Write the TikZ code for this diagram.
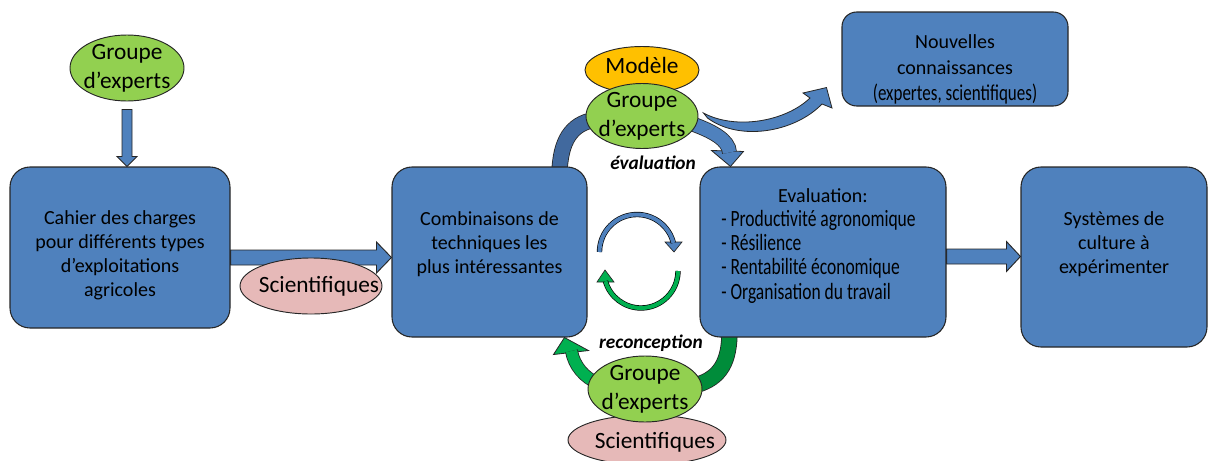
\documentclass[tikz,border=0pt]{standalone}
\usepackage{fontspec}
\setmainfont{Carlito}
\newfontfamily\narrowfont[FakeStretch=0.75]{Carlito}
\usetikzlibrary{shapes.geometric, positioning, backgrounds, calc}

\definecolor{boxblue}{HTML}{4F81BD}
\definecolor{arcblue}{HTML}{41699E}
\definecolor{expgreen}{HTML}{92D050}
\definecolor{scipink}{HTML}{E6B9B8}
\definecolor{modorange}{HTML}{FFC000}
\definecolor{darkgreen}{HTML}{008C3A}
\definecolor{brightgreen}{HTML}{00B050}

\begin{document}
\begin{tikzpicture}[x=0.75pt, y=-0.75pt,
  box/.style={rectangle, rounded corners=15pt, draw=black!85, line width=0.8pt,
              fill=boxblue, inner sep=0pt},
  boxtext/.style={font=\fontsize{15}{18}\selectfont, align=center},
  ell/.style={ellipse, draw=black!85, line width=0.7pt, inner sep=0pt},
  etext/.style={font=\fontsize{17.5}{21.5}\selectfont, align=center},
  blockarrow/.style={draw=black!85, line width=0.7pt, fill=boxblue, line join=miter},
  band/.style={draw=black!85, line width=0.6pt, double=#1, double distance=11pt},
  thinband/.style={draw=black, line width=0.5pt, double=#1, double distance=3pt},
  tiphead/.style={draw=black!85, line width=0.6pt, fill=#1, line join=miter},
  phase/.style={font=\fontsize{14.5}{17}\selectfont\bfseries\itshape}
]
\useasboundingbox (0,0) rectangle (1208,461);

%% Boxes
\node[box, minimum width=165pt, minimum height=120.75pt,
      label={[boxtext, yshift=-6pt]center:{Cahier des charges\\pour différents types\\d’exploitations\\agricoles}}]
      (cahier) at (120,247.5) {};
\node[box, minimum width=146.25pt, minimum height=127.5pt,
      label={[boxtext, yshift=6pt]center:{Combinaisons de\\techniques les\\plus intéressantes}}]
      (comb) at (489.5,252) {};
\node[box, minimum width=184.5pt, minimum height=127.5pt] (eval) at (823,252) {};
\node[box, minimum width=139.5pt, minimum height=135pt,
      label={[boxtext, yshift=9.75pt]center:{Systèmes de\\culture à\\expérimenter}}]
      (syst) at (1114,257) {};
\node[box, rounded corners=11pt, minimum width=169.5pt, minimum height=70.5pt,
      label={[boxtext, font=\fontsize{15}{19.5}\selectfont, yshift=-7.5pt]center:{Nouvelles\\connaissances\\{\narrowfont\fontsize{17}{19.5}\selectfont(expertes, scientifiques)}}}]
      (nouv) at (955,59) {};

%% Evaluation box text
\node[boxtext] (evaltitle) at (823,196) {Evaluation:};
\node[boxtext, font=\narrowfont\fontsize{17.5}{18.3}\selectfont, align=left, anchor=west, inner sep=0pt]
      (evallist) at (721,256.5) {- Productivité agronomique\\- Résilience\\- Rentabilité économique\\- Organisation du travail};

%% Ellipses
\node[ell, fill=expgreen, minimum width=85.5pt, minimum height=49.5pt,
      label={[etext]center:{Groupe\\d’experts}}] (expA) at (127,68) {};
\node[ell, fill=scipink, minimum width=106.5pt, minimum height=42pt,
      label={[etext, xshift=6pt]center:{Scientifiques}}] (sciA) at (311,286) {};
\node[ell, fill=modorange, minimum width=85.5pt, minimum height=35.25pt,
      label={[etext, yshift=3.75pt]center:{Modèle}}] (model) at (642,70) {};
\node[ell, fill=expgreen, minimum width=84pt, minimum height=48.75pt,
      label={[etext]center:{Groupe\\d’experts}}] (expB) at (642,116) {};
\node[ell, fill=scipink, minimum width=118.5pt, minimum height=37.5pt,
      label={[etext, xshift=6pt, yshift=-1.5pt]center:{Scientifiques}}] (sciC) at (647,440) {};
\node[ell, fill=expgreen, minimum width=85.5pt, minimum height=49.5pt,
      label={[etext]center:{Groupe\\d’experts}}] (expC) at (645,389) {};

%% Phase labels
\node[phase] (evallabel) at (653,163) {évaluation};
\node[phase] (reclabel) at (651,343) {reconception};

%% Connectors
\begin{scope}[on background layer]
  % straight block arrows
  \coordinate (tipA) at (expA.south |- cahier.north);
  \draw[blockarrow] ($(tipA)+(-5,-57)$) -- ++(0,47) -- ++(-5,0) -- (tipA)
        -- ++(10,-10) -- ++(-5,0) -- ++(0,-47) -- cycle;
  \coordinate (tipB) at ($(comb.west)+(0,5.5)$);
  \draw[blockarrow] ($(cahier.east |- tipB)+(0,-7.5)$) -- ($(tipB)+(-15,-7.5)$) -- ++(0,-8)
        -- (tipB) -- ++(-15,15.5) -- ++(0,-8) -- ($(cahier.east |- tipB)+(0,7.5)$) -- cycle;
  \coordinate (tipD) at ($(syst.west)+(0,-0.5)$);
  \draw[blockarrow] ($(eval.east |- tipD)+(0,-7.5)$) -- ($(tipD)+(-14,-7.5)$) -- ++(0,-7.5)
        -- (tipD) -- ++(-14,15) -- ++(0,-7.5) -- ($(eval.east |- tipD)+(0,7.5)$) -- cycle;

  % evaluation loop
  \draw[band=arcblue] ($(comb.north west)+(168,8)$) .. controls (560,140) and (572,124) .. ($(expB.west)+(8,4)$);
  \coordinate (tipC) at ($(eval.north west)+(31,0)$);
  \filldraw[tiphead=boxblue] ($(tipC)+(-19,-16)$) -- (tipC) -- ($(tipC)+(13,-15)$) -- cycle;
  \draw[band=boxblue, double distance=10pt] ($(expB.east)+(-6,8)$) .. controls (712,131) and (729,140) .. ($(tipC)+(-1,-14)$);
  \filldraw[tiphead=boxblue] ($(expB.east)+(5,-3)$) .. controls (735,130) and (785,122) .. (810,98)
        -- (803,93) -- ($(nouv.south west)+(-15,-19)$) -- (832,108) -- (822,104)
        .. controls (795,132) and (740,142) .. ($(expB.east)+(9,2)$) -- cycle;

  % reconception loop
  \draw[band=darkgreen] ($(eval.south west)+(30,-8)$) .. controls (730,362) and (720,378) .. ($(expC.east)+(-6,-4)$);
  \coordinate (tipE) at ($(comb.south west)+(173,0)$);
  \filldraw[tiphead=brightgreen] ($(tipE)+(-11,17)$) -- (tipE) -- ($(tipE)+(24,13)$) -- cycle;
  \draw[band=brightgreen, double distance=8.5pt] ($(expC.west)+(10,-6)$) .. controls (585,378) and (574,366) .. (571.5,351);
\end{scope}

%% Cycle symbol
\filldraw[tiphead=boxblue, line width=0.5pt] (665,242) -- (674,252) -- (682,242) -- cycle;
\draw[thinband=boxblue] (599.5,252) arc[start angle=180, end angle=346, radius=37.5];
\filldraw[tiphead=brightgreen, line width=0.5pt] (597,282) -- (605,270) -- (614,282) -- cycle;
\draw[thinband=brightgreen] (678,271) arc[start angle=0, end angle=164, radius=37];
\end{tikzpicture}
\end{document}
